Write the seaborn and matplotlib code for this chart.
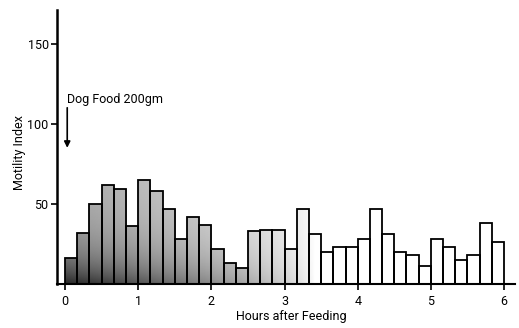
import numpy as np
import pandas as pd
import matplotlib
matplotlib.use("Agg")
import matplotlib.pyplot as plt
import seaborn as sns

# Motility index for each 10-minute interval after a 200 g dog-food meal
interval_start_min = [0, 10, 20, 30, 40, 50, 60, 70, 80, 90, 100, 110,
                      120, 130, 140, 150, 160, 170, 180, 190, 200, 210, 220, 230,
                      240, 250, 260, 270, 280, 290, 300, 310, 320, 330, 340, 350]
motility_index = [16, 32, 50, 62, 59, 36, 65, 58, 47, 28, 42, 37,
                  22, 13, 10, 33, 34, 34, 22, 47, 31, 20, 23, 23,
                  28, 47, 31, 20, 18, 11.5, 28, 23, 15, 18, 38, 26]
hour_ticks = [0, 1, 2, 3, 4, 5, 6]
hour_labels = ["0", "1", "2", "3", "4", "5", "6"]
y_ticks = [50, 100, 150]
meal_label = "Dog Food 200gm"

df = pd.DataFrame({
    "hours": (np.array(interval_start_min) + 5) / 60.0,
    "motility": motility_index,
})

sns.set_theme(style="ticks")
plt.rcParams["font.family"] = ["Roboto", "DejaVu Sans"]

fig = plt.figure(figsize=(5.19, 3.28), dpi=100)
ax = fig.add_axes([0.1098, 0.134, 0.8825, 0.8355])

sns.histplot(data=df, x="hours", weights="motility", bins=36, binrange=(0, 6),
             stat="count", element="bars", fill=True, color="white",
             edgecolor="black", linewidth=1.3, alpha=1, ax=ax)

# Halftone-like shading: dark just after the meal, fading with time and height
for patch in ax.patches:
    x0 = patch.get_x()
    w = patch.get_width()
    h = patch.get_height()
    xs = np.linspace(x0, x0 + w, 8)
    ys = np.linspace(0, h, 60)
    X, Y = np.meshgrid(xs, ys)
    wx = np.clip(1 - X / 3.4, 0, 1) ** 0.7
    vy = 0.38 + 0.62 * np.exp(-Y / 20.0)
    gray = 1 - 0.85 * wx * vy
    im = ax.imshow(gray, cmap="gray", vmin=0, vmax=1, origin="lower",
                   extent=[x0, x0 + w, 0, h], aspect="auto",
                   interpolation="bilinear", zorder=2)
    im.set_clip_path(patch)
    patch.set_facecolor("none")
    patch.set_zorder(3)

ax.set_xlim(-0.11, 6.15)
ax.set_ylim(0, 171)
ax.set_xticks(hour_ticks)
ax.set_xticklabels(hour_labels)
ax.set_yticks(y_ticks)
ax.set_yticklabels([str(v) for v in y_ticks])
ax.tick_params(axis="both", length=4, width=1.2, labelsize=9, color="black",
               labelcolor="black")
ax.tick_params(axis="x", pad=4)
ax.tick_params(axis="y", pad=2)

for side in ("top", "right"):
    ax.spines[side].set_visible(False)
ax.spines["left"].set_linewidth(1.8)
ax.spines["bottom"].set_linewidth(1.5)
ax.spines["left"].set_color("black")
ax.spines["bottom"].set_color("black")

ax.set_xlabel("Hours after Feeding", fontsize=9, color="black")
ax.set_ylabel("Motility Index", fontsize=9, color="black")
ax.xaxis.set_label_coords(0.511, -0.117)
ax.yaxis.set_label_coords(-0.081, 0.48)
ax.xaxis.label.set_va("center")
ax.yaxis.label.set_va("center")

ax.annotate("", xy=(0.03, 85), xytext=(0.03, 110),
            arrowprops=dict(arrowstyle="-|>", color="black", lw=1.2,
                            mutation_scale=9, shrinkA=0, shrinkB=0))
ax.text(0.03, 111, meal_label, fontsize=9, ha="left", va="bottom",
        color="black")

fig.savefig("out.png", dpi=100)
